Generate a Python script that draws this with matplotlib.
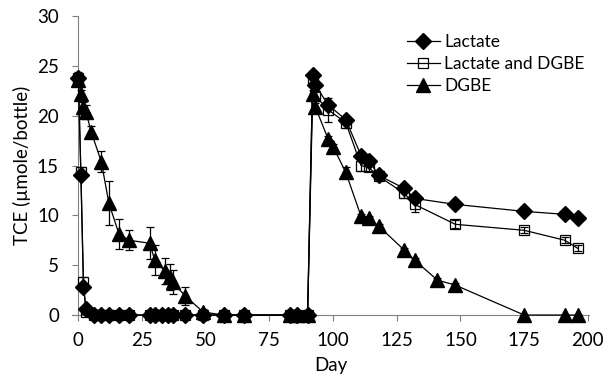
import matplotlib.pyplot as plt
from matplotlib.lines import Line2D

plt.rcParams['font.family'] = ['Lato', 'DejaVu Sans']

# sampling days (Lactate and Lactate+DGBE bottles)
days = [0, 1, 2, 3, 6, 9, 12, 16, 20, 28, 30, 33, 35, 37, 42, 49, 57, 65,
        83, 86, 90, 92, 93, 98, 105, 111, 114, 118, 128, 132, 148, 175, 191, 196]
lactate = [23.8, 14.0, 2.8, 0.6, 0, 0, 0, 0, 0, 0, 0, 0, 0, 0, 0, 0, 0, 0,
           0, 0, 0, 24.1, 23.1, 21.1, 19.6, 16.0, 15.5, 14.0, 12.7, 11.7, 11.1, 10.4, 10.1, 9.7]
lactate_err = [0.4, 0.3, 0.3, 0.1, 0, 0, 0, 0, 0, 0, 0, 0, 0, 0, 0, 0, 0, 0,
               0, 0, 0, 0.3, 0.3, 0.3, 0.3, 0.3, 0.3, 0.3, 0.3, 0.3, 0.2, 0.2, 0.2, 0.2]
lac_dgbe = [23.8, 14.3, 3.3, 0.3, 0, 0, 0, 0, 0, 0, 0, 0, 0, 0, 0, 0, 0, 0,
            0, 0, 0, 23.6, 22.0, 20.6, 19.3, 15.0, 14.8, 13.9, 12.2, 11.1, 9.1, 8.5, 7.5, 6.7]
lac_dgbe_err = [0.6, 0.5, 0.5, 0.2, 0, 0, 0, 0, 0, 0, 0, 0, 0, 0, 0, 0, 0, 0,
                0, 0, 0, 0.4, 0.4, 1.2, 0.5, 0.6, 0.4, 0.4, 0.5, 0.8, 0.4, 0.3, 0.3, 0.3]

# DGBE bottles
days_dgbe = [0, 1, 2, 3, 5, 9, 12, 16, 20, 28, 30, 34, 36, 37, 42, 49, 57, 65,
             83, 86, 90, 92, 93, 98, 100, 105, 111, 114, 118, 128, 132, 141, 148, 175, 191, 196]
dgbe = [23.6, 22.2, 20.9, 20.4, 18.4, 15.4, 11.2, 8.1, 7.5, 7.2, 5.5, 4.4, 3.8, 3.3, 1.9, 0.3, 0, 0,
        0, 0, 0, 22.2, 20.9, 17.7, 16.9, 14.3, 9.9, 9.7, 8.9, 6.5, 5.5, 3.5, 3.0, 0, 0, 0]
dgbe_err = [0.5, 0.4, 0.5, 0.7, 0.6, 1.1, 2.2, 1.5, 1.0, 1.6, 1.5, 1.3, 1.3, 1.2, 0.9, 0.3, 0, 0,
            0, 0, 0, 0.4, 0.4, 0.3, 0.3, 0.5, 0.2, 0.2, 0.2, 0.2, 0.2, 0.2, 0.2, 0, 0, 0]

fig = plt.figure(figsize=(6.08, 3.81), dpi=100)
ax = fig.add_axes([0.1184, 0.1732, 0.8504, 0.7848])

common = dict(color='black', ecolor='black', lw=0.9, elinewidth=0.9, capsize=3, capthick=0.9)
series = [
    (days, lactate, lactate_err, dict(marker='D', ms=8, mfc='black'), 'Lactate', 3),
    (days, lac_dgbe, lac_dgbe_err, dict(marker='s', ms=7, mfc='none', mew=0.9), 'Lactate and DGBE', 4),
    (days_dgbe, dgbe, dgbe_err, dict(marker='^', ms=10, mfc='black'), 'DGBE', 5),
]
handles = []
for x, y, err, mk, name, z in series:
    eb = ax.errorbar(x, y, yerr=err, mec='black', zorder=z, **mk, **common)
    eb[0].set_clip_on(False)
    handles.append(Line2D([], [], color='black', lw=0.9, mec='black', label=name, **mk))

ax.set_xlim(-2.5, 200.5)
ax.set_ylim(0, 30)
ax.set_xticks(range(0, 201, 25))
ax.set_yticks(range(0, 31, 5))
ax.spines['left'].set_position(('data', 0))
ax.spines['top'].set_visible(False)
ax.spines['right'].set_visible(False)
ax.spines['left'].set_color('#808080')
ax.spines['bottom'].set_color('#808080')
ax.tick_params(direction='out', length=4, width=0.8, color='#808080', labelsize=13.5)
ax.tick_params(axis='x', pad=8)
ax.tick_params(axis='y', pad=10)
ax.set_xlabel('Day', fontsize=13.5, labelpad=6)
ax.set_ylabel('TCE (µmole/bottle)', fontsize=13.5, labelpad=4)

ax.legend(handles=handles, loc='upper left', bbox_to_anchor=(0.632, 0.97), frameon=False,
          fontsize=12.5, handlelength=1.85, handletextpad=0.25, labelspacing=0.35, borderpad=0)

fig.savefig('out.png', dpi=100)
